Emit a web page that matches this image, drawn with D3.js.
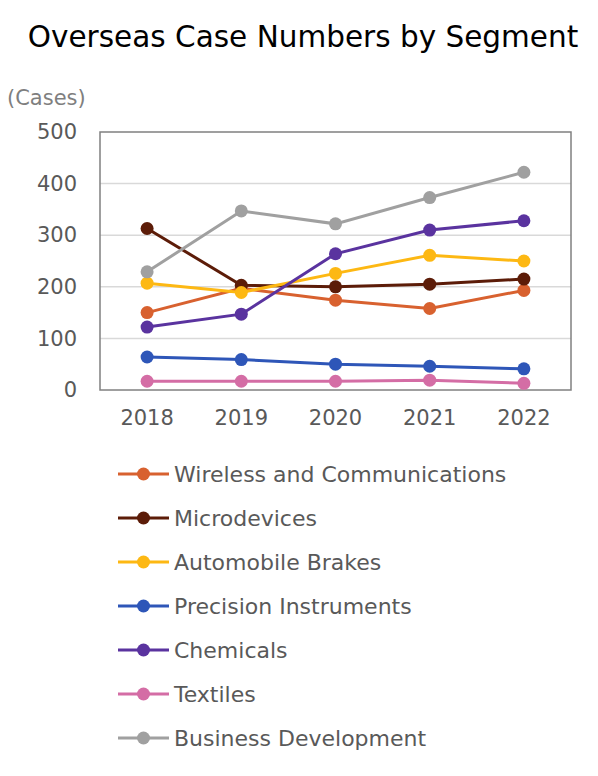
<!DOCTYPE html>
<html>
<head>
<meta charset="utf-8">
<script src="https://cdn.jsdelivr.net/npm/d3@7"></script>
<style>
  body { margin: 0; background: #fff; }
  text { font-family: "DejaVu Sans", Verdana, sans-serif; }
</style>
</head>
<body>
<div id="chart"></div>
<script>
// data
var years = ["2018", "2019", "2020", "2021", "2022"];
var segments = ["Wireless and Communications", "Microdevices", "Automobile Brakes",
  "Precision Instruments", "Chemicals", "Textiles", "Business Development"];
var wireless = [150, 197, 174, 158, 193];
var microdevices = [313, 203, 200, 205, 215];
var brakes = [207, 189, 226, 261, 250];
var precision = [64, 59, 50, 46, 41];
var chemicals = [122, 147, 264, 310, 328];
var textiles = [17, 17, 17, 19, 13];
var business = [229, 347, 322, 373, 422];
var yTicks = [0, 100, 200, 300, 400, 500];
var colors = ["#D8612F", "#5C1C08", "#FDB813", "#2E56B8", "#5A339F", "#D46DA5", "#A0A0A0"];

var series = [wireless, microdevices, brakes, precision, chemicals, textiles, business];

var W = 598, H = 776;
var margin = { top: 132, right: 27, bottom: 386, left: 100 };
var width = W - margin.left - margin.right;
var height = H - margin.top - margin.bottom;

var svg = d3.select("#chart")
  .append("svg")
  .attr("width", W)
  .attr("height", H);

// title
svg.append("text")
  .attr("x", 303)
  .attr("y", 47)
  .attr("text-anchor", "middle")
  .attr("font-size", 29.5)
  .attr("fill", "#000")
  .text("Overseas Case Numbers by Segment");

svg.append("text")
  .attr("x", 7)
  .attr("y", 105)
  .attr("font-size", 21)
  .attr("fill", "#7f7f7f")
  .text("(Cases)");

var g = svg.append("g")
  .attr("transform", "translate(" + margin.left + "," + margin.top + ")");

var x = d3.scaleBand().domain(years).range([0, width]);
var y = d3.scaleLinear().domain([0, 500]).range([height, 0]);

// gridlines
g.append("g")
  .selectAll("line")
  .data(yTicks.slice(1, -1))
  .join("line")
  .attr("x1", 0).attr("x2", width)
  .attr("y1", d => y(d)).attr("y2", d => y(d))
  .attr("stroke", "#d9d9d9")
  .attr("stroke-width", 1.5);

// plot border
g.append("rect")
  .attr("width", width).attr("height", height)
  .attr("fill", "none")
  .attr("stroke", "#808080")
  .attr("stroke-width", 1.5);

// y axis labels
var yAxis = g.append("g")
  .attr("transform", "translate(-23,0)")
  .call(d3.axisLeft(y).tickValues(yTicks).tickSize(0).tickPadding(0));
yAxis.select(".domain").remove();
yAxis.selectAll("text")
  .attr("font-size", 21)
  .attr("fill", "#595959")
  .style("font-family", "DejaVu Sans, Verdana, sans-serif");

// x axis labels
var xAxis = g.append("g")
  .attr("transform", "translate(0," + height + ")")
  .call(d3.axisBottom(x).tickSize(0).tickPadding(20));
xAxis.select(".domain").remove();
xAxis.selectAll("text")
  .attr("font-size", 21)
  .attr("fill", "#595959")
  .style("font-family", "DejaVu Sans, Verdana, sans-serif");

var line = d3.line()
  .x((d, i) => x(years[i]) + x.bandwidth() / 2)
  .y(d => y(d));

series.forEach(function (vals, k) {
  g.append("path")
    .datum(vals)
    .attr("fill", "none")
    .attr("stroke", colors[k])
    .attr("stroke-width", 3)
    .attr("d", line);
  g.append("g")
    .selectAll("circle")
    .data(vals)
    .join("circle")
    .attr("cx", (d, i) => x(years[i]) + x.bandwidth() / 2)
    .attr("cy", d => y(d))
    .attr("r", 6.5)
    .attr("fill", colors[k]);
});

// legend
var legend = svg.append("g").attr("transform", "translate(118,474)");
var rows = legend.selectAll("g")
  .data(segments)
  .join("g")
  .attr("transform", (d, i) => "translate(0," + i * 44 + ")");
rows.append("line")
  .attr("x1", 0).attr("x2", 51)
  .attr("stroke", (d, i) => colors[i])
  .attr("stroke-width", 3);
rows.append("circle")
  .attr("cx", 25.5)
  .attr("r", 6.5)
  .attr("fill", (d, i) => colors[i]);
rows.append("text")
  .attr("x", 56)
  .attr("dy", "0.35em")
  .attr("font-size", 22)
  .attr("fill", "#595959")
  .text(d => d);
</script>
</body>
</html>
